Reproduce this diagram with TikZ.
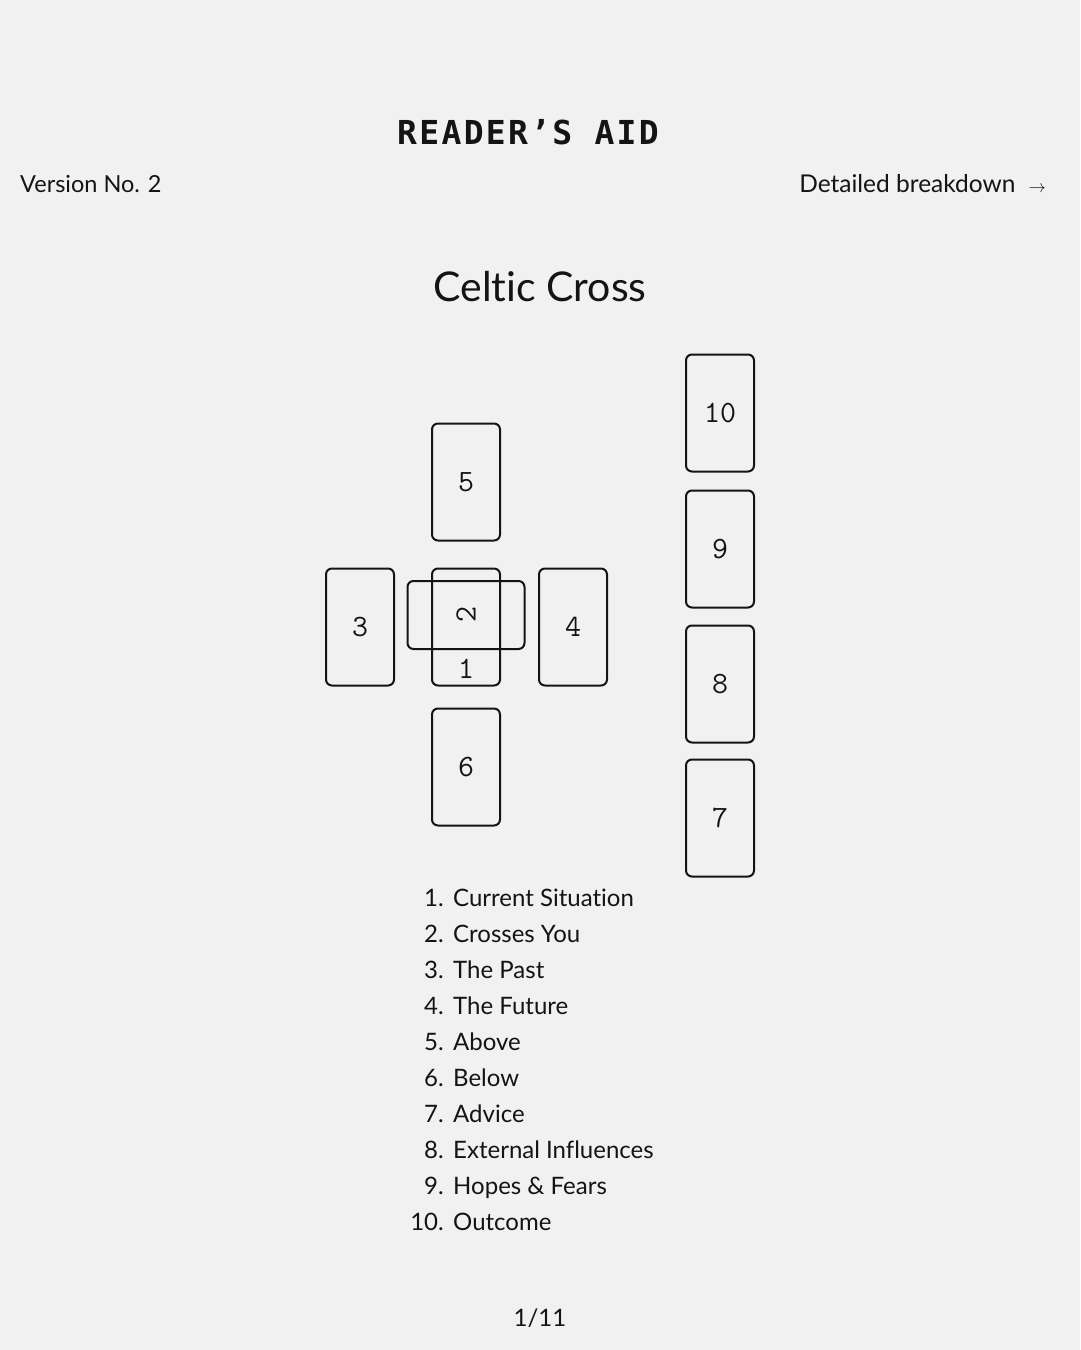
\documentclass[tikz,border=0pt]{standalone}
\usepackage{fontspec}
\setmainfont{Lato}[Ligatures={NoCommon}]
\newfontfamily\headfont[LetterSpace=7]{DejaVu Sans Mono}
\definecolor{paper}{RGB}{241,241,241}
\definecolor{ink}{RGB}{20,20,20}
\usetikzlibrary{positioning}

\begin{document}
\begin{tikzpicture}[
  x=1pt, y=-1pt,
  every node/.style={text=ink, inner sep=0pt},
  card/.style={draw=ink, line width=2pt, rounded corners=6pt,
               minimum width=68pt, minimum height=117pt,
               font=\fontsize{31}{34}\selectfont\ttfamily},
  cardnum/.style={font=\fontsize{31}{34}\selectfont\ttfamily},
  corner/.style={font=\fontsize{23.5}{28}\selectfont},
  listnum/.style={anchor=base east, font=\fontsize{24}{28}\selectfont},
  listtext/.style={anchor=base west, font=\fontsize{24}{28}\selectfont},
]
  \fill[paper] (0,0) rectangle (1080,1350);
  \useasboundingbox (0,0) rectangle (1080,1350);

  % Header
  \node[anchor=base, font=\headfont\bfseries\fontsize{33}{36}\selectfont] (title) at (528,144) {READER’S AID};
  \node[corner, anchor=base west] (version) at (20,192) {Version No. 2};
  \node[corner, anchor=base east, font=\fontsize{24.5}{28}\selectfont] (more) at (1046,192) {Detailed breakdown\hspace{13pt}{\fontsize{17}{20}\selectfont$\rightarrow$}};
  \node[anchor=base, font=\fontsize{41}{46}\selectfont] (spread) at (540,301) {Celtic Cross};

  % The cross
  \node[card] (c1) at (466,627) {};
  \node[cardnum, above=8pt of c1.south] (n1) {1};
  \node[card, rotate=90] (c2) at (466,615) {2};
  \node[card] (c3) at (360,627) {3};
  \node[card] (c4) at (573,627) {4};
  \node[card] (c5) at (466,482) {5};
  \node[card] (c6) at (466,767) {6};

  % The staff
  \node[card] (c7) at (720,818) {7};
  \node[card] (c8) at (720,684) {8};
  \node[card] (c9) at (720,549) {9};
  \node[card] (c10) at (720,413) {10};

  % Legend
  \foreach \n/\t [count=\i from 0] in {1/Current Situation, 2/Crosses You,
      3/The Past, 4/The Future, 5/Above, 6/Below, 7/Advice,
      8/External Influences, 9/Hopes \& Fears, 10/Outcome} {
    \node[listnum] (num\n) at (444,906+36*\i) {\n.};
    \node[listtext] (item\n) at (453,906+36*\i) {\t};
  }

  \node[anchor=base, font=\fontsize{24}{28}\selectfont] (page) at (540,1326) {1/11};
\end{tikzpicture}
\end{document}
